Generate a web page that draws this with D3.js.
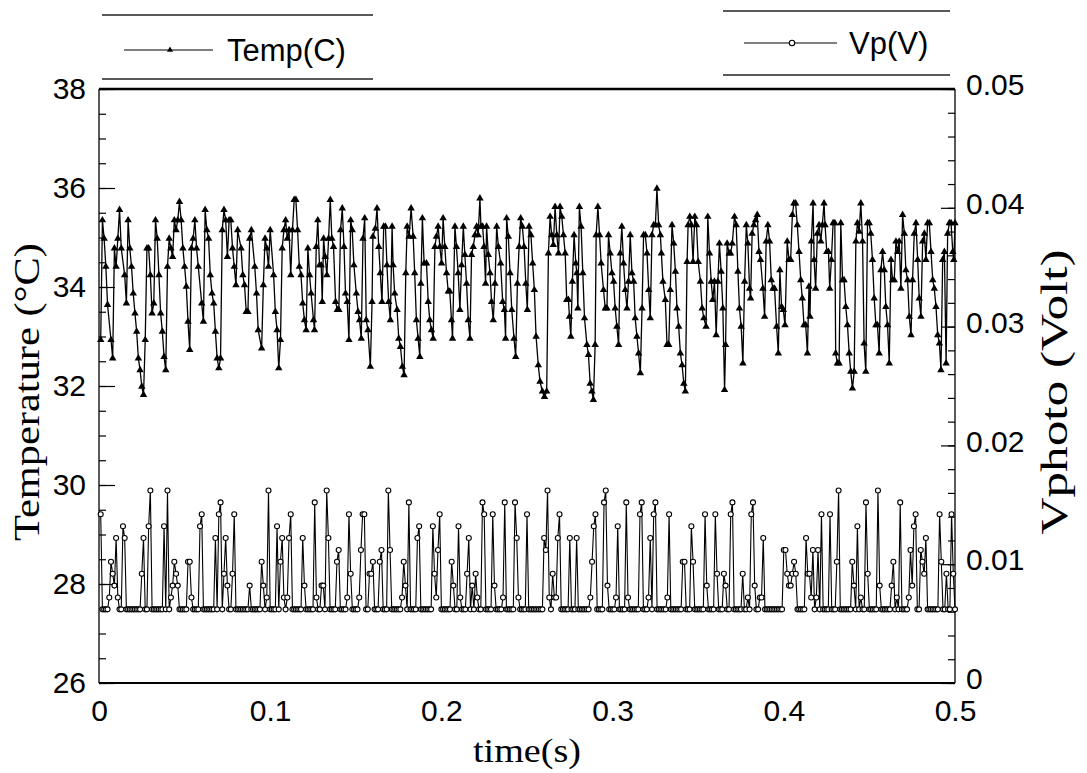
<!DOCTYPE html>
<html><head><meta charset="utf-8">
<script src="https://cdn.jsdelivr.net/npm/d3@7"></script>
<style>body{margin:0;background:#fff}svg{display:block}</style>
</head><body><svg id="c" width="1087" height="773"></svg>
<script>
// ---------- data ----------
const xTicks = [0, 0.1, 0.2, 0.3, 0.4, 0.5];
const tempTicks = [26, 28, 30, 32, 34, 36, 38];
const vpTicks = [0, 0.01, 0.02, 0.03, 0.04, 0.05];
const seriesNames = ["Temp(C)", "Vp(V)"];

// temperature samples: time (ms) and value (°C)
const tempTimeMs = [
1,2,3,4,5,7,8,9,10,11,
12,13,15,16,17,18,19,20,21,22,
23,24,25,26,27,28,29,30,31,32,
33,34,35,36,37,38,39,40,41,42,
43,44,45,46,47,48,49,50,51,52,
53,54,55,56,57,58,60,61,62,63,
64,65,66,67,68,69,70,71,72,73,
74,75,76,77,78,79,80,81,83,84,
85,86,87,88,89,91,92,93,95,96,
97,98,99,100,102,103,104,105,106,107,
108,109,110,111,112,113,114,115,116,117,
118,119,120,121,122,123,
123.9,125.3,125.9,126.9,127.8,128.8,129.8,130.4,131.2,132.1,
133.1,134.1,135.1,136.0,137.0,138.2,139.2,140.1,141.1,142.1,
143.1,144.0,145.0,146.0,147.0,147.9,148.9,150.3,151.3,152.2,
153.2,154.2,155.2,156.1,157.1,158.5,159.5,160.0,161.4,162.4,
163.4,164.3,165.3,166.3,167.3,168.2,169.2,170.2,171.2,171.8,
172.7,174.1,175.1,176.1,177.2,178.2,179.2,180.0,181.1,182.3,
183.5,184.4,185.4,186.4,187.4,188.0,188.9,189.9,191.3,192.3,
193.2,194.2,195.2,196.2,197.1,198.1,199.1,200.1,201.0,202.0,
203.0,204.0,204.9,205.9,206.5,207.9,208.8,209.8,210.8,211.8,
212.8,213.7,214.7,215.7,216.7,217.6,218.6,219.6,220.6,221.5,
222.5,223.1,224.1,224.9,225.8,226.4,227.4,228.4,229.3,230.3,
231.3,232.3,233.3,234.6,235.8,236.8,237.5,238.1,239.1,240.1,
241.1,242.4,243.4,244.4,245.4,246.3,247.3,248.3,249.3,250.2,
251.2,
252.3,253.3,254.3,255.3,256.6,257.6,259.0,260.2,261.5,262.5,
263.5,264.4,265.4,266.4,267.4,268.4,269.3,270.3,271.3,272.3,
273.2,274.2,274.8,275.6,276.5,277.5,278.5,279.1,279.7,280.6,
281.6,282.6,283.6,285.0,285.9,286.9,287.9,288.8,289.8,290.4,
291.4,292.4,293.3,294.7,295.7,296.7,297.6,298.6,299.6,300.6,
301.5,302.5,303.5,304.5,305.4,306.4,307.4,308.4,309.3,310.3,
311.3,312.3,313.2,314.2,315.2,316.2,317.2,318.1,319.1,320.1,
321.1,322.0,323.0,324.0,325.0,325.9,326.9,327.9,328.5,329.4,
330.8,331.8,332.8,333.7,334.7,335.7,336.7,337.6,338.6,339.6,
340.6,341.6,342.5,343.5,344.1,345.1,346.0,347.0,348.0,349.0,
350.0,351.3,352.3,353.3,354.6,355.6,356.6,357.6,358.5,359.5,
360.5,361.5,362.4,363.4,364.4,365.4,366.0,366.9,368.1,368.9,
369.9,371.2,372.2,373.2,374.1,375.1,376.1,377.1,378.1,379.0,
380.0,
380.6,381.5,382.5,383.5,384.5,385.5,386.4,387.8,388.8,389.7,
390.7,391.7,392.7,393.7,394.6,395.8,396.8,397.7,398.7,399.7,
400.7,402.0,403.0,404.0,405.0,405.9,406.9,407.9,408.9,409.9,
410.8,411.8,412.8,413.8,414.7,415.3,416.1,417.1,417.7,418.6,
419.6,420.6,421.6,422.5,423.5,424.1,425.1,426.1,426.8,427.8,
428.8,429.8,430.3,431.3,432.3,433.3,434.3,435.2,436.2,437.2,
438.2,439.1,440.1,441.1,442.1,443.0,444.0,445.0,446.0,446.9,
447.9,448.9,449.9,450.8,451.8,452.8,453.8,454.7,455.7,456.7,
457.7,458.7,459.6,460.6,461.6,462.6,463.5,464.5,465.5,466.5,
467.4,468.4,469.4,470.4,471.3,472.3,473.3,474.3,475.2,476.2,
477.2,478.2,479.1,480.1,481.1,482.1,483.0,484.0,485.0,486.0,
487.0,487.9,488.9,489.9,490.9,491.8,492.8,493.8,494.8,495.7,
496.7,497.7,498.7,499.3,500.0
];

const tempValues = [
32.93,35.35,34.98,34.41,33.64,32.93,32.56,34.78,34.41,34.98,
35.56,34.78,34.24,33.67,35.35,34.78,34.41,33.87,33.47,33.10,
32.56,32.32,31.99,31.82,32.93,34.78,34.78,34.24,33.47,33.67,
35.35,34.98,34.24,33.47,33.10,32.59,32.32,34.41,34.98,34.78,
34.61,35.35,35.15,35.35,35.72,35.35,34.78,34.41,34.01,33.30,
32.73,34.78,34.98,35.35,34.78,34.41,33.67,33.30,35.56,35.15,
34.98,34.24,33.87,33.67,33.10,32.56,32.36,32.56,35.15,35.56,
35.35,34.61,35.35,35.35,34.78,34.41,34.04,35.15,34.78,34.24,
34.04,33.50,33.50,34.98,35.15,34.41,33.87,33.13,32.76,34.04,
34.98,34.78,34.41,35.15,34.24,33.50,33.13,32.36,32.93,34.78,
35.15,35.35,34.98,35.15,34.24,35.15,35.76,35.76,35.15,34.41,
34.24,33.67,33.33,33.13,34.78,34.24,
33.87,33.33,33.13,34.81,35.35,34.44,34.44,33.70,34.98,34.61,
34.24,34.98,35.76,34.98,34.81,33.70,33.54,33.54,35.15,35.59,
34.81,33.87,33.70,32.93,35.35,35.15,34.44,33.87,33.50,33.33,
32.96,34.98,35.39,33.33,33.13,32.39,33.70,35.02,35.18,35.59,
34.81,34.28,33.70,35.22,35.22,34.44,33.70,33.33,35.22,34.44,
33.87,33.54,32.96,32.79,32.39,32.22,34.28,35.22,35.02,35.59,
35.02,34.28,33.33,32.96,32.59,34.07,35.39,34.48,34.48,33.70,
33.33,33.13,32.96,34.81,35.02,35.22,34.81,34.48,35.39,34.81,
34.28,33.91,33.91,33.33,32.96,35.22,34.81,34.28,33.54,34.44,
35.22,34.65,34.07,33.33,32.96,34.65,34.81,35.05,35.22,35.05,
35.79,35.22,35.22,34.81,34.07,35.22,34.65,34.28,33.70,33.33,
34.07,35.22,34.81,34.48,33.70,33.54,32.96,35.39,35.02,34.28,
33.54,32.96,32.59,34.07,34.81,35.39,35.22,34.81,34.07,33.54,
35.22,
35.05,34.48,33.94,33.00,32.42,32.09,31.89,31.78,31.89,34.68,
35.42,35.05,34.85,35.62,35.05,34.68,35.62,35.42,35.05,34.68,
33.74,33.74,33.40,33.00,34.11,35.05,34.48,34.28,33.57,35.62,
35.22,34.28,33.37,32.83,32.63,32.05,31.89,31.72,32.83,35.05,
35.62,35.05,34.48,33.94,33.57,33.57,35.05,34.68,34.28,34.11,
33.57,33.20,32.83,34.68,35.22,34.48,33.94,33.57,34.11,35.05,
34.28,34.11,33.37,33.00,32.66,32.26,33.57,35.05,35.05,34.68,
33.94,33.37,35.05,35.25,35.25,35.99,35.25,35.05,34.68,34.11,
33.74,32.83,32.83,33.94,35.25,34.88,34.31,33.57,33.20,32.66,
32.42,32.05,31.89,34.51,35.25,35.42,35.25,34.51,35.42,35.25,
34.51,34.11,33.57,33.37,33.20,35.42,34.68,34.11,33.74,34.11,
33.03,34.11,34.88,34.31,33.57,31.92,32.83,34.88,34.68,34.68,
34.88,35.42,35.25,34.31,33.57,33.20,32.46,34.11,35.25,34.88,
33.97,
33.77,35.08,35.25,35.35,35.46,34.71,34.55,33.97,33.40,34.92,
35.25,34.92,34.14,33.97,33.97,33.20,32.66,34.34,33.60,33.54,
33.23,34.92,34.55,34.55,35.46,35.69,35.69,35.25,34.71,34.14,
33.77,33.23,33.23,32.66,34.01,33.40,34.92,35.69,34.55,33.97,
35.08,35.25,34.92,35.25,35.69,35.25,34.71,34.71,33.97,34.55,
35.29,35.29,32.66,32.46,32.46,35.29,34.14,34.14,33.60,33.23,
32.66,32.29,31.95,32.29,34.92,35.29,35.12,35.69,34.92,32.86,
32.29,35.29,35.29,35.08,34.55,33.77,33.23,33.23,32.66,34.34,
34.71,34.34,33.60,33.23,32.46,34.55,34.14,34.14,34.92,34.71,
34.92,33.97,35.46,35.08,34.34,34.14,33.40,33.03,34.14,35.08,
35.29,34.55,33.77,33.40,34.92,35.08,34.55,35.29,35.29,34.71,
34.14,33.97,33.60,33.03,32.86,32.32,34.55,34.71,32.46,35.08,
35.29,35.29,34.71,34.55,35.29
];

// photo-voltage: one sample per ms from 1 ms to 500 ms
const vpStartMs = 1, vpStepMs = 1;
const vpValues = [
.0142,.0062,.0062,.0062,.0062,.0072,.0102,.0092,.0082,.0122,
.0072,.0062,.0062,.0132,.0122,.0062,.0062,.0062,.0062,.0062,
.0062,.0062,.0062,.0062,.0092,.0122,.0062,.0062,.0132,.0162,
.0062,.0062,.0062,.0062,.0062,.0062,.0062,.0132,.0062,.0162,
.0062,.0072,.0082,.0102,.0092,.0082,.0062,.0062,.0062,.0062,
.0062,.0102,.0102,.0072,.0062,.0062,.0062,.0062,.0132,.0142,
.0062,.0062,.0062,.0062,.0062,.0062,.0062,.0122,.0062,.0142,
.0152,.0062,.0092,.0122,.0082,.0062,.0062,.0092,.0142,.0062,
.0062,.0062,.0062,.0062,.0062,.0062,.0062,.0082,.0062,.0062,
.0062,.0062,.0062,.0062,.0102,.0082,.0062,.0072,.0162,.0062,
.0062,.0062,.0062,.0132,.0062,.0102,.0122,.0072,.0062,.0072,
.0122,.0142,.0062,.0062,.0062,.0062,.0062,.0062,.0122,.0082,
.0062,.0062,.0062,.0062,.0062,.0152,.0072,.0062,.0062,.0082,
.0082,.0062,.0162,.0122,.0062,.0062,.0062,.0062,.0102,.0112,
.0062,.0062,.0062,.0062,.0072,.0142,.0092,.0062,.0062,.0062,
.0062,.0072,.0112,.0142,.0142,.0062,.0062,.0092,.0092,.0102,
.0062,.0062,.0062,.0102,.0112,.0062,.0062,.0062,.0162,.0112,
.0062,.0062,.0062,.0062,.0062,.0062,.0072,.0102,.0082,.0062,
.0152,.0062,.0062,.0062,.0062,.0122,.0132,.0062,.0062,.0062,
.0062,.0062,.0062,.0062,.0132,.0092,.0072,.0112,.0142,.0062,
.0062,.0062,.0062,.0062,.0062,.0102,.0082,.0062,.0062,.0132,
.0072,.0062,.0062,.0062,.0092,.0122,.0062,.0082,.0062,.0092,
.0072,.0062,.0062,.0152,.0142,.0062,.0062,.0062,.0062,.0142,
.0082,.0062,.0062,.0062,.0062,.0072,.0152,.0062,.0062,.0062,
.0062,.0062,.0152,.0122,.0072,.0062,.0062,.0062,.0062,.0142,
.0062,.0062,.0062,.0062,.0062,.0062,.0062,.0062,.0062,.0122,
.0112,.0162,.0072,.0062,.0092,.0072,.0072,.0122,.0142,.0062,
.0062,.0062,.0062,.0062,.0122,.0062,.0062,.0062,.0122,.0062,
.0062,.0062,.0062,.0062,.0062,.0062,.0072,.0102,.0132,.0142,
.0062,.0062,.0062,.0062,.0152,.0162,.0082,.0062,.0062,.0062,
.0062,.0072,.0132,.0062,.0062,.0062,.0062,.0152,.0072,.0062,
.0062,.0062,.0062,.0062,.0062,.0142,.0152,.0062,.0062,.0062,
.0072,.0122,.0062,.0142,.0152,.0062,.0062,.0062,.0062,.0062,
.0062,.0072,.0142,.0062,.0062,.0062,.0062,.0062,.0062,.0062,
.0102,.0102,.0062,.0062,.0062,.0132,.0102,.0062,.0062,.0062,
.0062,.0062,.0062,.0142,.0082,.0062,.0062,.0062,.0062,.0142,
.0092,.0062,.0062,.0062,.0092,.0082,.0062,.0062,.0142,.0152,
.0062,.0062,.0062,.0062,.0062,.0092,.0062,.0062,.0072,.0062,
.0142,.0152,.0082,.0062,.0062,.0072,.0072,.0122,.0062,.0062,
.0062,.0062,.0062,.0062,.0062,.0062,.0062,.0062,.0062,.0112,
.0112,.0092,.0082,.0082,.0092,.0102,.0092,.0062,.0062,.0062,
.0062,.0062,.0122,.0092,.0092,.0072,.0112,.0062,.0072,.0112,
.0062,.0142,.0062,.0062,.0062,.0062,.0142,.0062,.0062,.0062,
.0102,.0162,.0062,.0062,.0062,.0062,.0062,.0062,.0062,.0102,
.0082,.0062,.0132,.0062,.0072,.0062,.0062,.0152,.0092,.0062,
.0062,.0062,.0062,.0062,.0162,.0082,.0062,.0062,.0062,.0062,
.0062,.0062,.0082,.0102,.0062,.0072,.0062,.0152,.0062,.0062,
.0062,.0062,.0072,.0112,.0082,.0132,.0142,.0062,.0062,.0112,
.0102,.0092,.0122,.0062,.0062,.0062,.0062,.0062,.0062,.0062,
.0142,.0102,.0062,.0062,.0092,.0062,.0062,.0142,.0092,.0062
];

// ---------- layout ----------
const L = 99, R = 955, T = 89, B = 683;
const sans = "'Liberation Sans', Arial, Helvetica, sans-serif";
const serif = "'Liberation Serif', 'Times New Roman', serif";

const svg = d3.select("#c");
const x = d3.scaleLinear().domain([0, 0.5]).range([L, R]);
const yT = d3.scaleLinear().domain([26, 38]).range([B, T]);
const yV = d3.scaleLinear().domain([0, 0.05]).range([B, T]);

const tempData = tempTimeMs.map((ms, i) => [ms / 1000, tempValues[i]]);
const vpData = vpValues.map((v, i) => [(vpStartMs + i * vpStepMs) / 1000, v]);

// ---------- axes ----------
function styleAxis(g) {
  g.select(".domain").remove();
  g.selectAll("line").attr("stroke", "#000").attr("stroke-width", 1.2);
  g.selectAll("text").attr("font-family", sans).attr("font-size", 30).attr("fill", "#000");
}
svg.append("g").attr("transform", `translate(${L},0)`)
  .call(d3.axisRight(yT).tickValues(d3.range(26, 38.01, 0.5)).tickSize(7).tickFormat(""))
  .call(styleAxis);
svg.append("g").attr("transform", `translate(${L},0)`)
  .call(d3.axisRight(yT).tickValues(tempTicks).tickSize(16).tickFormat(""))
  .call(styleAxis);
svg.append("g").attr("transform", `translate(${L},0)`)
  .call(d3.axisLeft(yT).tickValues(tempTicks).tickSize(0).tickPadding(13).tickFormat(d3.format("d")))
  .call(styleAxis);
svg.append("g").attr("transform", `translate(${R},0)`)
  .call(d3.axisLeft(yV).tickValues(d3.range(0, 0.0501, 0.002)).tickSize(7).tickFormat(""))
  .call(styleAxis);
svg.append("g").attr("transform", `translate(${R},0)`)
  .call(d3.axisLeft(yV).tickValues(vpTicks).tickSize(14).tickFormat(""))
  .call(styleAxis);
svg.append("g").attr("transform", `translate(${R},-4)`)
  .call(d3.axisRight(yV).tickValues(vpTicks).tickSize(0).tickPadding(11)
    .tickFormat(d => d === 0 ? "0" : d3.format(".2f")(d)))
  .call(styleAxis);
svg.append("g").attr("transform", `translate(0,${B})`)
  .call(d3.axisBottom(x).tickValues(xTicks).tickSize(0).tickPadding(17)
    .tickFormat(d => d === 0 ? "0" : d3.format(".1f")(d)))
  .call(styleAxis);

// frame
svg.append("line").attr("x1", L).attr("x2", R).attr("y1", T).attr("y2", T).attr("stroke", "#000").attr("stroke-width", 2.4);
svg.append("line").attr("x1", L).attr("x2", R).attr("y1", B).attr("y2", B).attr("stroke", "#000").attr("stroke-width", 2.2);
svg.append("line").attr("x1", L).attr("x2", L).attr("y1", T).attr("y2", B).attr("stroke", "#000").attr("stroke-width", 1.3);
svg.append("line").attr("x1", R).attr("x2", R).attr("y1", T).attr("y2", B).attr("stroke", "#000").attr("stroke-width", 1.3);

// axis titles (thin serif, horizontally wide like the reference)
svg.append("text").attr("transform", `translate(27,392) rotate(-90)`)
  .attr("text-anchor", "middle").attr("dominant-baseline", "central")
  .attr("font-family", serif).attr("font-size", 35)
  .attr("textLength", 298).attr("lengthAdjust", "spacingAndGlyphs").text("Temperature (°C)");
svg.append("text").attr("transform", `translate(1054,392) rotate(-90)`)
  .attr("text-anchor", "middle").attr("dominant-baseline", "central")
  .attr("font-family", serif).attr("font-size", 38)
  .attr("textLength", 285).attr("lengthAdjust", "spacingAndGlyphs").text("Vphoto (Volt)");
svg.append("text").attr("x", (L + R) / 2).attr("y", 750)
  .attr("text-anchor", "middle").attr("dominant-baseline", "central")
  .attr("font-family", serif).attr("font-size", 34)
  .attr("textLength", 108).attr("lengthAdjust", "spacingAndGlyphs").text("time(s)");

// ---------- series ----------
const lineT = d3.line().x(d => x(d[0])).y(d => yT(d[1]));
const lineV = d3.line().x(d => x(d[0])).y(d => yV(d[1]));
svg.append("path").datum(vpData).attr("d", lineV).attr("fill", "none").attr("stroke", "#000").attr("stroke-width", 1.1);
svg.append("path").datum(tempData).attr("d", lineT).attr("fill", "none").attr("stroke", "#000").attr("stroke-width", 1.3);

const tri = d3.symbol().type(d3.symbolTriangle).size(24);
svg.append("g").selectAll("path").data(tempData).join("path")
  .attr("transform", d => `translate(${x(d[0])},${yT(d[1])})`)
  .attr("d", tri).attr("fill", "#000");
svg.append("g").selectAll("circle").data(vpData).join("circle")
  .attr("cx", d => x(d[0])).attr("cy", d => yV(d[1])).attr("r", 2.5)
  .attr("fill", "#fff").attr("stroke", "#000").attr("stroke-width", 1.1);

// ---------- legends ----------
function legendBox(x0, x1, yTop, yBot) {
  [yTop, yBot].forEach(yy => svg.append("line").attr("x1", x0).attr("x2", x1)
    .attr("y1", yy).attr("y2", yy).attr("stroke", "#222").attr("stroke-width", 1.6));
}
legendBox(102, 373, 15, 79);
svg.append("line").attr("x1", 124).attr("x2", 213).attr("y1", 50).attr("y2", 50).attr("stroke", "#000").attr("stroke-width", 1.2);
svg.append("path").attr("transform", "translate(170,50)").attr("d", d3.symbol().type(d3.symbolTriangle).size(16)).attr("fill", "#000");
svg.append("text").attr("x", 227).attr("y", 50).attr("dominant-baseline", "central")
  .attr("font-family", sans).attr("font-size", 31).text(seriesNames[0]);

legendBox(723, 950, 11, 75);
svg.append("line").attr("x1", 744).attr("x2", 837).attr("y1", 43).attr("y2", 43).attr("stroke", "#000").attr("stroke-width", 1.2);
svg.append("circle").attr("cx", 792).attr("cy", 43).attr("r", 2.7).attr("fill", "#fff").attr("stroke", "#000").attr("stroke-width", 1.1);
svg.append("text").attr("x", 849).attr("y", 43).attr("dominant-baseline", "central")
  .attr("font-family", sans).attr("font-size", 31).text(seriesNames[1]);
</script></body></html>
